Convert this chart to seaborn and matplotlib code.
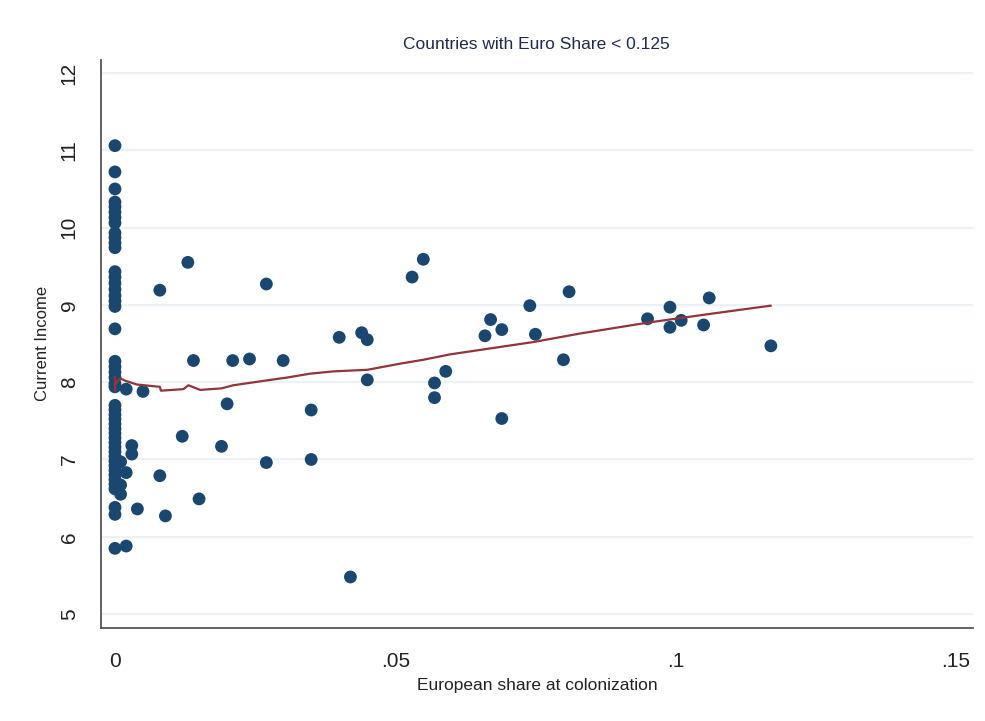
import numpy as np
import pandas as pd
import seaborn as sns
import matplotlib
matplotlib.use('Agg')
import matplotlib.pyplot as plt

# points: european share at colonization vs current income
zero_income = [11.06, 10.72, 10.50, 10.33, 10.27, 10.20, 10.13, 10.06, 9.93, 9.87,
               9.80, 9.74, 9.43, 9.36, 9.28, 9.20, 9.12, 9.05, 8.98, 8.69,
               8.27, 8.20, 8.13, 8.06, 7.98, 7.94, 7.70, 7.64, 7.58, 7.52,
               7.46, 7.40, 7.34, 7.28, 7.22, 7.16, 7.10, 7.04, 6.98, 6.92,
               6.86, 6.80, 6.74, 6.68, 6.62, 6.38, 6.29, 5.85]

euro_share = [0.001, 0.002, 0.001, 0.001, 0.002, 0.002, 0.003, 0.003, 0.004, 0.005,
              0.008, 0.008, 0.009, 0.012, 0.013, 0.014, 0.015, 0.019, 0.020, 0.021,
              0.024, 0.027, 0.027, 0.030, 0.035, 0.035, 0.040, 0.042, 0.044, 0.045,
              0.045, 0.053, 0.055, 0.057, 0.057, 0.059, 0.066, 0.067, 0.069, 0.069,
              0.074, 0.075, 0.080, 0.081, 0.095, 0.099, 0.099, 0.101, 0.105, 0.106,
              0.117]
income = [6.97, 6.83, 6.67, 6.55, 7.91, 5.88, 7.18, 7.07, 6.36, 7.88,
          9.19, 6.79, 6.27, 7.30, 9.55, 8.28, 6.49, 7.17, 7.72, 8.28,
          8.30, 9.27, 6.96, 8.28, 7.64, 7.00, 8.58, 5.48, 8.64, 8.55,
          8.03, 9.36, 9.59, 7.99, 7.80, 8.14, 8.60, 8.81, 8.68, 7.53,
          8.99, 8.62, 8.29, 9.17, 8.82, 8.97, 8.71, 8.80, 8.74, 9.09,
          8.47]

# lowess line as drawn in the reference
fit_x = [0.0, 0.0, 0.0, 0.0009, 0.0018, 0.0039, 0.008, 0.0082, 0.0122, 0.0131,
         0.0152, 0.019, 0.0211, 0.0268, 0.0307, 0.0348, 0.039, 0.045, 0.0509,
         0.055, 0.0598, 0.0747, 0.083, 0.095, 0.1068, 0.117]
fit_y = [7.89, 8.07, 7.96, 8.05, 8.02, 7.97, 7.94, 7.89, 7.91, 7.96,
         7.90, 7.92, 7.96, 8.02, 8.06, 8.11, 8.14, 8.16, 8.24,
         8.29, 8.36, 8.52, 8.63, 8.77, 8.89, 8.99]

df = pd.DataFrame({'share': [0.0] * len(zero_income) + euro_share,
                   'income': zero_income + income})
fit = pd.DataFrame({'share': fit_x, 'income': fit_y})

sns.set_style('white')
plt.rcParams['font.family'] = ['Liberation Sans', 'DejaVu Sans']

fig = plt.figure(figsize=(9.85, 7.21), dpi=100)
ax = fig.add_axes([0.1025, 0.129, 0.885, 0.788])

for v in range(5, 13):
    ax.axhline(v, color='#eaf2f3', lw=1.6, zorder=0)

sns.scatterplot(data=df, x='share', y='income', ax=ax, color='#1a476f', s=85,
                edgecolor='none', zorder=3)
sns.lineplot(data=fit, x='share', y='income', ax=ax, color='#90353b', lw=1.6,
             sort=False, estimator=None, zorder=4)

ax.set_xlim(-0.0025, 0.153)
ax.set_ylim(4.82, 12.17)
ax.set_xticks([0, 0.05, 0.1, 0.15])
ax.set_xticklabels(['0', '.05', '.1', '.15'])
ax.set_yticks(range(5, 13))
ax.set_yticklabels([str(v) for v in range(5, 13)], rotation=90, va='center')
ax.tick_params(axis='both', direction='out', length=7, width=1.2, color='#333333',
               labelsize=15, colors='#222222')
ax.tick_params(axis='x', pad=10)
ax.tick_params(axis='y', pad=9)

for side in ['top', 'right']:
    ax.spines[side].set_visible(False)
for side in ['left', 'bottom']:
    ax.spines[side].set_color('#555555')
    ax.spines[side].set_linewidth(1.3)

ax.set_xlabel('European share at colonization', fontsize=12.5, color='#222222', labelpad=5)
ax.set_ylabel('Current Income', fontsize=12, color='#222222', labelpad=7)
ax.set_title('Countries with Euro Share < 0.125', fontsize=12.5, color='#1e2a50', pad=8)

fig.savefig('out.png', dpi=100, facecolor='white')
